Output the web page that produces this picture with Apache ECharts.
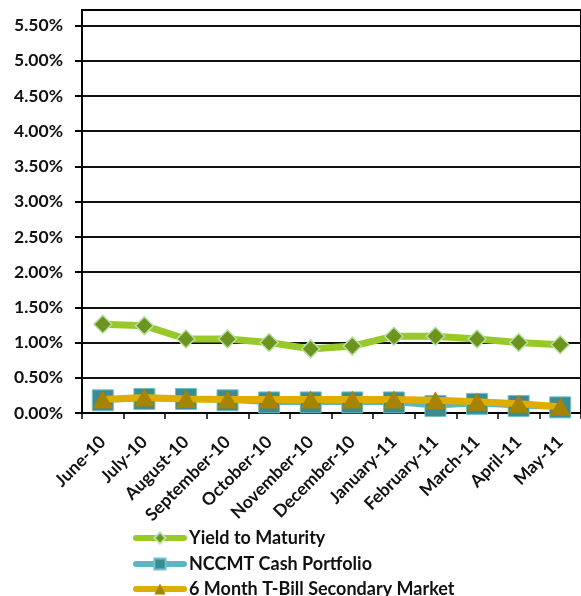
<!DOCTYPE html>
<html>
<head>
<meta charset="utf-8">
<script src="https://cdn.jsdelivr.net/npm/echarts@6/dist/echarts.min.js"></script>
<style>html,body{margin:0;padding:0;background:#fff}#c{width:581px;height:596px}</style>
</head>
<body>
<div id="c"></div>
<script>
var categories = ['June-10','July-10','August-10','September-10','October-10','November-10','December-10','January-11','February-11','March-11','April-11','May-11'];
var yieldToMaturity = [1.26, 1.24, 1.05, 1.05, 1.00, 0.91, 0.95, 1.09, 1.09, 1.05, 1.00, 0.97];
var nccmtCash = [0.18, 0.20, 0.20, 0.18, 0.15, 0.15, 0.15, 0.15, 0.10, 0.13, 0.10, 0.08];
var tBill6m = [0.19, 0.22, 0.20, 0.19, 0.19, 0.19, 0.19, 0.19, 0.18, 0.16, 0.13, 0.09];
var yTicks = [0, 0.5, 1, 1.5, 2, 2.5, 3, 3.5, 4, 4.5, 5, 5.5];
var seriesNames = ['Yield to Maturity', 'NCCMT Cash Portfolio', '6 Month T-Bill Secondary Market'];

var FONT = 'Lato';
var legendTops = [529, 555, 580];
var legends = seriesNames.map(function (n, i) {
  return {
    orient: 'horizontal',
    left: 133,
    top: legendTops[i],
    padding: 0,
    itemWidth: 48,
    itemHeight: 14,
    lineStyle: {width: 6, cap: 'round'},
    textStyle: {fontFamily: FONT, fontWeight: 'bold', fontSize: 18, color: '#111'},
    data: [n]
  };
});

var chart = echarts.init(document.getElementById('c'), null, {renderer: 'canvas'});
chart.setOption({
  animation: false,
  backgroundColor: '#fff',
  textStyle: {fontFamily: FONT},
  grid: {left: 82, top: 10, width: 503, bottom: 183, show: true, borderColor: '#000', borderWidth: 2, containLabel: false},
  xAxis: {
    type: 'category',
    data: categories,
    boundaryGap: true,
    axisLine: {lineStyle: {color: '#000', width: 2}},
    axisTick: {show: true, length: 6, lineStyle: {color: '#000', width: 1.5}},
    axisLabel: {rotate: 45, interval: 0, margin: 26, color: '#111', fontFamily: FONT, fontWeight: 'bold', fontSize: 17.5}
  },
  yAxis: {
    type: 'value',
    min: 0,
    max: 5.72,
    interval: 0.5,
    axisLine: {show: true, lineStyle: {color: '#000', width: 2}},
    axisTick: {show: true, length: 7, customValues: yTicks, lineStyle: {color: '#000', width: 2}},
    splitLine: {show: true, lineStyle: {color: '#111', width: 2}},
    axisLabel: {
      customValues: yTicks,
      margin: 19,
      color: '#111', fontFamily: FONT, fontWeight: 'bold', fontSize: 17.5,
      formatter: function (v) {
        var r = Math.round(v * 2) / 2;
        if (Math.abs(r - v) > 1e-6) return '';
        return v.toFixed(2) + '%';
      }
    }
  },
  legend: legends,
  series: [
    {
      name: seriesNames[0], type: 'line', data: yieldToMaturity, z: 2,
      symbol: 'diamond', symbolSize: [18, 18],
      lineStyle: {color: '#99C928', width: 7},
      itemStyle: {color: '#6E9420', borderColor: '#B3E1A3', borderWidth: 1.5}
    },
    {
      name: seriesNames[1], type: 'line', data: nccmtCash, z: 3,
      symbol: 'rect', symbolSize: 21,
      lineStyle: {color: '#5AB6C2', width: 5},
      itemStyle: {color: '#3C8A92', borderColor: '#6FC1CB', borderWidth: 1}
    },
    {
      name: seriesNames[2], type: 'line', data: tBill6m, z: 4,
      symbol: 'triangle', symbolSize: [21, 18],
      lineStyle: {color: '#DDAE00', width: 7},
      itemStyle: {color: '#A68400', borderColor: '#A68400', borderWidth: 0}
    }
  ]
});
</script>
</body>
</html>
